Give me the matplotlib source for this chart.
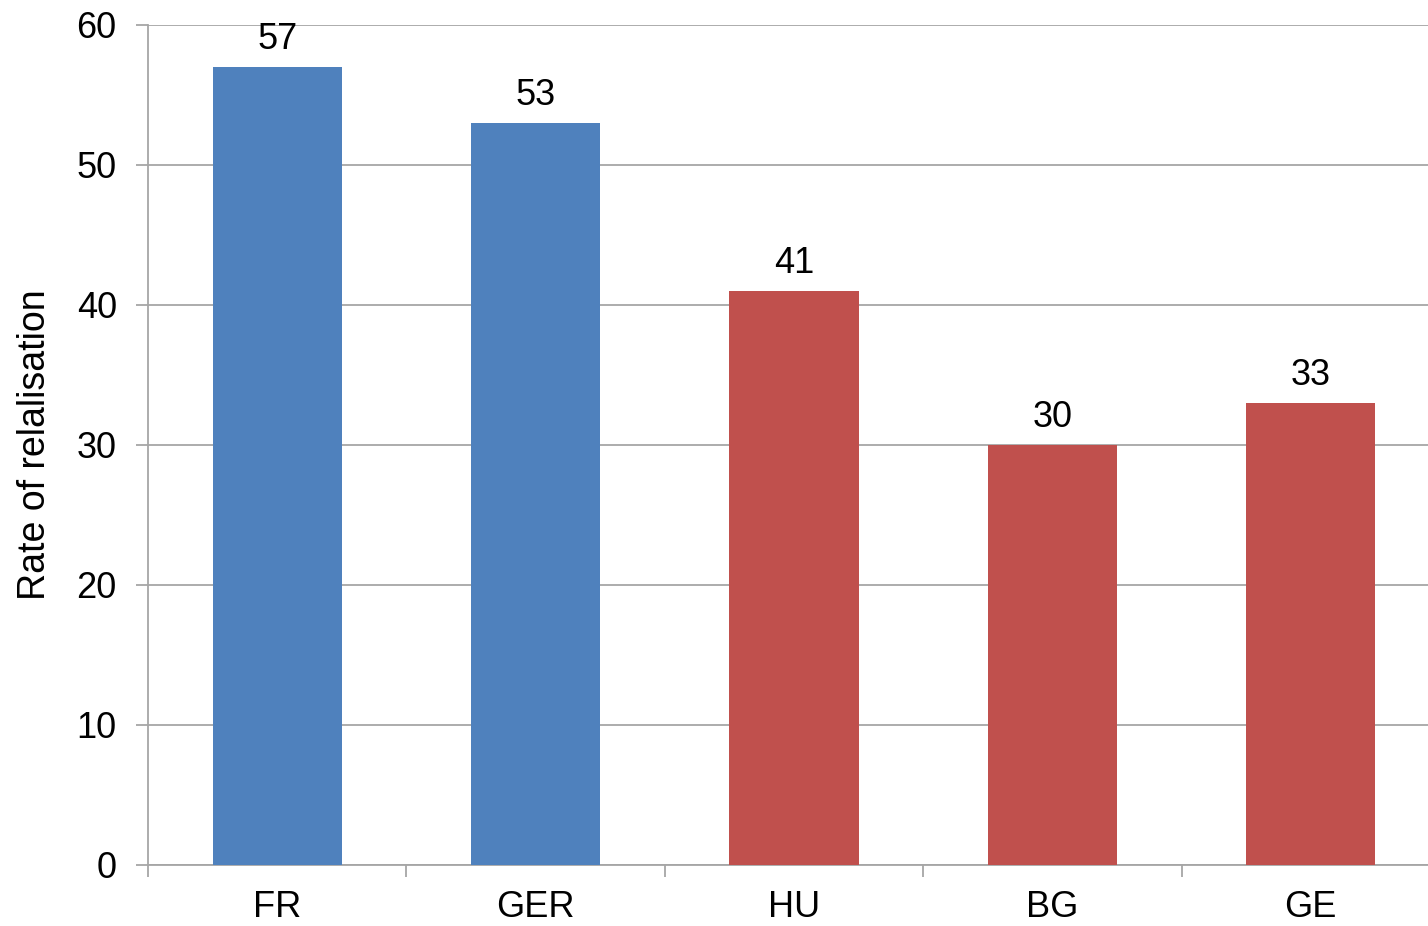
import numpy as np
import matplotlib
matplotlib.use('Agg')
import matplotlib.pyplot as plt

plt.rcParams['font.family'] = ['Liberation Sans', 'DejaVu Sans']

countries = ['FR', 'GER', 'HU', 'BG', 'GE']
rates = [57, 53, 41, 30, 33]
bar_colors = ['#4F81BD', '#4F81BD', '#C0504D', '#C0504D', '#C0504D']

fig = plt.figure(figsize=(14.28, 9.26), dpi=100)
# plot area runs slightly past the right edge of the picture
ax = fig.add_axes([148/1428, 61/926, 1292/1428, 840/926])

x = np.arange(len(countries))
rects = ax.bar(x, rates, width=0.5, color=bar_colors, zorder=3)

for rect in rects:
    h = rect.get_height()
    ax.annotate('{}'.format(h),
                xy=(rect.get_x() + rect.get_width() / 2, h),
                xytext=(0, 7), textcoords='offset points',
                ha='center', va='bottom', fontsize=26)

ax.set_xlim(-0.5, len(countries) - 0.5)
ax.set_ylim(0, 60)
ax.set_yticks(np.arange(0, 61, 10))
ax.set_xticks(x)
ax.set_xticklabels(countries)
ax.set_xticks(np.arange(-0.5, len(countries), 1.0), minor=True)

ax.yaxis.grid(True, color='#A6A6A6', linewidth=1.3, zorder=0)
ax.set_axisbelow(True)

for s in ['top', 'right']:
    ax.spines[s].set_visible(False)
for s in ['left', 'bottom']:
    ax.spines[s].set_color('#A6A6A6')
    ax.spines[s].set_linewidth(1.3)

ax.tick_params(axis='y', direction='out', length=8.5, color='#A6A6A6', width=1.3,
               labelsize=26, pad=14)
ax.tick_params(axis='x', which='major', length=0, labelsize=26, pad=18)
ax.tick_params(axis='x', which='minor', direction='out', length=8.5, color='#A6A6A6', width=1.3)

ax.set_ylabel('Rate of relalisation', fontsize=27, labelpad=17)

fig.savefig('out.png', dpi=100)
